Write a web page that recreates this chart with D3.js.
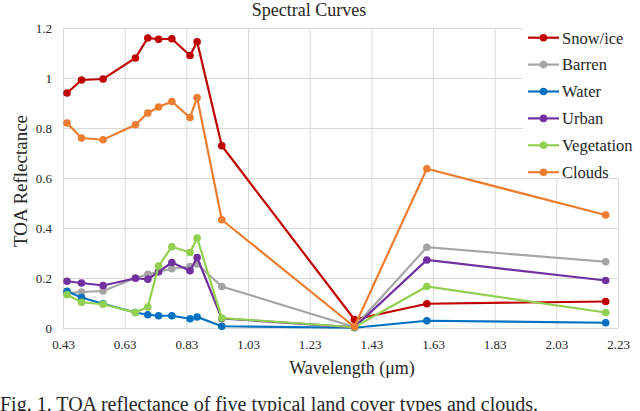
<head>
	<meta charset="utf-8">
	<title>Spectral Curves</title>
	<script src="https://cdn.jsdelivr.net/npm/d3@7"></script>
	<style>
		body { margin: 0; background: #fff; }
		text { font-family: "Liberation Serif", "Times New Roman", serif; fill: #262626; }
	</style>
</head>
<body>
	<script type="text/javascript">
	// band centres (um), Sentinel-2 style
	var wavelengths = [0.443, 0.49, 0.56, 0.665, 0.705, 0.74, 0.783, 0.842, 0.865, 0.945, 1.375, 1.61, 2.19];
	var seriesNames = ["Snow/ice", "Barren", "Water", "Urban", "Vegetation", "Clouds"];
	var seriesColors = ["#C00000", "#A5A5A5", "#0070C0", "#7030A0", "#92D050", "#ED7D31"];

	var snowIce    = [0.94, 0.992, 0.996, 1.08, 1.16, 1.155, 1.157, 1.09, 1.145, 0.729, 0.034, 0.097, 0.106];
	var barren     = [0.14, 0.144, 0.148, 0.2, 0.215, 0.225, 0.237, 0.246, 0.256, 0.166, 0.004, 0.323, 0.265];
	var water      = [0.147, 0.122, 0.097, 0.062, 0.053, 0.049, 0.049, 0.037, 0.044, 0.007, 0.001, 0.029, 0.021];
	var urban      = [0.187, 0.18, 0.17, 0.199, 0.195, 0.225, 0.262, 0.229, 0.282, 0.038, 0.003, 0.272, 0.19];
	var vegetation = [0.133, 0.103, 0.095, 0.062, 0.084, 0.248, 0.325, 0.302, 0.36, 0.04, 0.003, 0.166, 0.062];
	var clouds     = [0.82, 0.76, 0.753, 0.813, 0.86, 0.884, 0.906, 0.842, 0.922, 0.433, 0.005, 0.637, 0.452];
	var seriesValues = [snowIce, barren, water, urban, vegetation, clouds];

	var xTicks = [0.43, 0.63, 0.83, 1.03, 1.23, 1.43, 1.63, 1.83, 2.03, 2.23];
	var yTicks = [0, 0.2, 0.4, 0.6, 0.8, 1, 1.2];

	var w = 640;
	var h = 411;
	// plot area edges (don't use "top", it is window.top)
	var pLeft = 63, pRight = 618, pTop = 28, pBottom = 328;

	var svg = d3.select("body")
		.append("svg")
		.attr("width", w)
		.attr("height", h);

	var x = d3.scaleLinear().domain([0.43, 2.23]).range([pLeft, pRight]);
	var y = d3.scaleLinear().domain([0, 1.2]).range([pBottom, pTop]);

	// gridlines
	svg.append("g")
		.attr("transform", "translate(0," + pBottom + ")")
		.call(d3.axisBottom(x).tickValues(xTicks).tickSize(-(pBottom - pTop)).tickFormat(""))
		.call(function(g){ g.select(".domain").remove(); })
		.selectAll("line").attr("stroke", "#D9D9D9");
	svg.append("g")
		.attr("transform", "translate(" + pLeft + ",0)")
		.call(d3.axisLeft(y).tickValues(yTicks).tickSize(-(pRight - pLeft)).tickFormat(""))
		.call(function(g){ g.select(".domain").remove(); })
		.selectAll("line").attr("stroke", "#D9D9D9");

	// tick labels
	svg.append("g")
		.attr("transform", "translate(0," + pBottom + ")")
		.call(d3.axisBottom(x).tickValues(xTicks).tickSize(0).tickPadding(12).tickFormat(d3.format(".2f")))
		.call(function(g){ g.select(".domain").attr("stroke", "#D9D9D9"); })
		.selectAll("text")
		.attr("font-size", "13px")
		.attr("font-family", "Liberation Serif, serif")
		.attr("fill", "#404040");
	svg.append("g")
		.attr("transform", "translate(" + pLeft + ",0)")
		.call(d3.axisLeft(y).tickValues(yTicks).tickSize(0).tickPadding(11).tickFormat(function(d){ return String(+d.toFixed(1)); }))
		.call(function(g){ g.select(".domain").attr("stroke", "#D9D9D9"); })
		.selectAll("text")
		.attr("font-size", "13px")
		.attr("font-family", "Liberation Serif, serif")
		.attr("fill", "#404040");

	var line = d3.line()
		.x(function(d, i){ return x(wavelengths[i]); })
		.y(function(d){ return y(d); });

	seriesValues.forEach(function(vals, k){
		var g = svg.append("g");
		g.append("path")
			.attr("d", line(vals))
			.attr("fill", "none")
			.attr("stroke", seriesColors[k])
			.attr("stroke-width", 2.2);
		g.selectAll("circle")
			.data(vals)
			.enter()
			.append("circle")
			.attr("cx", function(d, i){ return x(wavelengths[i]); })
			.attr("cy", function(d){ return y(d); })
			.attr("r", 3.8)
			.attr("fill", seriesColors[k]);
	});

	// legend
	var legend = svg.append("g");
	legend.append("rect")
		.attr("x", 523)
		.attr("y", 22)
		.attr("width", 115)
		.attr("height", 156)
		.attr("fill", "#fff");
	seriesNames.forEach(function(name, k){
		var ly = 37.7 + k * 26.9;
		legend.append("line")
			.attr("x1", 528).attr("x2", 559)
			.attr("y1", ly).attr("y2", ly)
			.attr("stroke", seriesColors[k])
			.attr("stroke-width", 2.2);
		legend.append("circle")
			.attr("cx", 543.5).attr("cy", ly)
			.attr("r", 3.8)
			.attr("fill", seriesColors[k]);
		legend.append("text")
			.attr("x", 562).attr("y", ly + 5.8)
			.attr("font-size", "16.5px")
			.text(name);
	});

	// titles
	svg.append("text")
		.attr("x", 309).attr("y", 16)
		.attr("text-anchor", "middle")
		.attr("font-size", "18px")
		.text("Spectral Curves");
	svg.append("text")
		.attr("transform", "translate(27,181) rotate(-90)")
		.attr("text-anchor", "middle")
		.attr("font-size", "19px")
		.text("TOA Reflectance");
	svg.append("text")
		.attr("x", 352).attr("y", 374)
		.attr("text-anchor", "middle")
		.attr("font-size", "18px")
		.text("Wavelength (\u03bcm)");

	svg.append("text")
		.attr("x", 0).attr("y", 411)
		.attr("font-size", "20px")
		.attr("fill", "#000")
		.text("Fig. 1. TOA reflectance of five typical land cover types and clouds.");
	</script>
</body>
